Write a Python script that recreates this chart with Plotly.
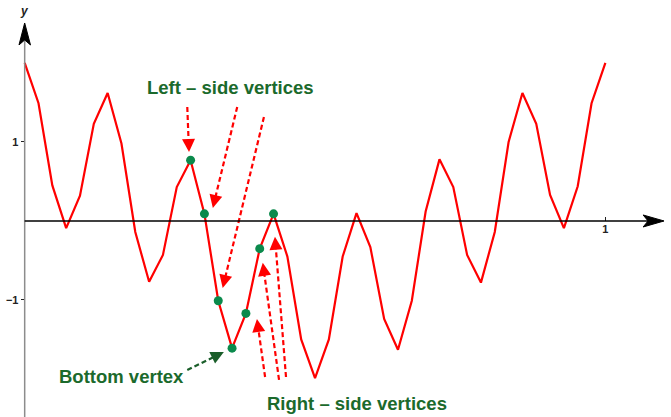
import plotly.graph_objects as go

# sampled curve, 43 points from x=0 to x=1
xs = [i / 42 for i in range(43)]
ys = [2.00, 1.49, 0.45, -0.09, 0.32, 1.23, 1.62, 0.98, -0.14, -0.77,
      -0.43, 0.43, 0.77, 0.09, -1.01, -1.61, -1.17, -0.35, 0.09, -0.45,
      -1.50, -1.99, -1.50, -0.45, 0.10, -0.33, -1.24, -1.63, -1.01, 0.12,
      0.78, 0.43, -0.43, -0.78, -0.14, 1.00, 1.62, 1.23, 0.33, -0.09,
      0.44, 1.49, 2.00]

# the highlighted vertices (indices into the curve)
vertex_idx = [12, 13, 14, 15, 16, 17, 18]

x_ticks = [1]
x_ticklabels = ["1"]
y_ticks = [-1, 1]
y_ticklabels = ["\u22121", "1"]

red = "#ff0000"
dgreen = "#1b6a2c"
dot_green = "#0b8a4c"

xr = [-0.0425, 1.113]
yr = [-2.481, 2.797]

fig = go.Figure()

fig.add_trace(go.Scatter(x=xs, y=ys, mode="lines",
                         line=dict(color=red, width=2.2), hoverinfo="skip"))

fig.add_trace(go.Scatter(x=[xs[i] for i in vertex_idx],
                         y=[ys[i] for i in vertex_idx],
                         mode="markers",
                         marker=dict(color=dot_green, size=9), hoverinfo="skip"))

# dashed pointer arrows: (x0, y0) tail -> (x1, y1) head
left_arrows = [(0.280, 1.443, 0.283, 0.873),
               (0.366, 1.443, 0.324, 0.165),
               (0.412, 1.316, 0.341, -0.848)]
right_arrows = [(0.414, -1.975, 0.400, -1.24),
                (0.438, -2.010, 0.410, -0.53),
                (0.450, -1.975, 0.431, -0.20)]
bottom_arrows = [(0.280, -1.886, 0.343, -1.658)]

annotations = []


def dashed_arrow(a, color):
    x0, y0, x1, y1 = a
    # shaft stops a bit short of the tip, head is drawn by an annotation
    fx = x0 + (x1 - x0) * 0.93
    fy = y0 + (y1 - y0) * 0.93
    fig.add_trace(go.Scatter(x=[x0, fx], y=[y0, fy], mode="lines",
                             line=dict(color=color, width=2.2, dash="5px,3px"),
                             hoverinfo="skip"))
    # head with a fixed pixel length
    dxp = (x1 - x0) * 580.6
    dyp = (y1 - y0) * 79.0
    L = (dxp ** 2 + dyp ** 2) ** 0.5
    ax = -dxp / L * 12
    ay = dyp / L * 12
    annotations.append(dict(x=x1, y=y1, ax=ax, ay=ay, xref="x", yref="y",
                            axref="pixel", ayref="pixel", text="",
                            showarrow=True, arrowhead=2, arrowsize=1.3,
                            arrowwidth=2, arrowcolor=color))


for a in left_arrows + right_arrows:
    dashed_arrow(a, red)
for a in bottom_arrows:
    dashed_arrow(a, "#1a5e2a")

labels = [("Left \u2013 side vertices", 0.3536, 1.686),
          ("Bottom vertex", 0.1659, -1.962),
          ("Right \u2013 side vertices", 0.5723, -2.304)]
for t, x, y in labels:
    annotations.append(dict(x=x, y=y, xref="x", yref="y", text="<b>" + t + "</b>",
                            showarrow=False,
                            font=dict(family="Liberation Sans, Arial", size=18.5,
                                      color=dgreen)))

annotations.append(dict(x=0, y=2.66, xref="x", yref="y", text="<b><i>y</i></b>",
                        showarrow=False, yanchor="middle",
                        font=dict(family="Liberation Sans, Arial", size=12,
                                  color="#222222")))

shapes = [
    dict(type="line", x0=0, y0=yr[0], x1=0, y1=2.29, xref="x", yref="y",
         line=dict(color="#8c8c8c", width=1.5)),
    dict(type="path", xref="x", yref="y",
         path="M 0 2.506 L -0.0098 2.228 L 0 2.291 L 0.0100 2.228 Z",
         fillcolor="black", line=dict(color="black", width=1)),
    dict(type="line", x0=0, y0=0, x1=1.074, y1=0, xref="x", yref="y",
         line=dict(color="black", width=1.3)),
    dict(type="path", xref="x", yref="y",
         path="M 1.101 0 L 1.065 0.076 L 1.0735 0 L 1.065 -0.076 Z",
         fillcolor="black", line=dict(color="black", width=1)),
]

tick_font = dict(family="Liberation Sans, Arial", size=11, color="#222222")
fig.update_layout(
    width=671, height=417,
    margin=dict(l=0, r=0, t=0, b=0),
    plot_bgcolor="white", paper_bgcolor="white",
    showlegend=False,
    xaxis=dict(range=xr, showgrid=False, zeroline=False, showline=False,
               anchor="free", position=(0 - yr[0]) / (yr[1] - yr[0]),
               tickvals=x_ticks, ticktext=["<b>%s</b>" % s for s in x_ticklabels],
               ticks="inside", ticklen=4, tickcolor="#222222", tickfont=tick_font),
    yaxis=dict(range=yr, showgrid=False, zeroline=False, showline=False,
               anchor="free", position=(0 - xr[0]) / (xr[1] - xr[0]),
               tickvals=y_ticks, ticktext=["<b>%s</b>" % s for s in y_ticklabels],
               ticks="outside", ticklen=4, tickcolor="#222222", tickfont=tick_font),
    annotations=annotations,
    shapes=shapes,
)

# drop the page's default body margin so the figure sits at the window corner
fig.write_html("out.html", config={"displayModeBar": False},
               post_script="document.body.style.margin='0';")
